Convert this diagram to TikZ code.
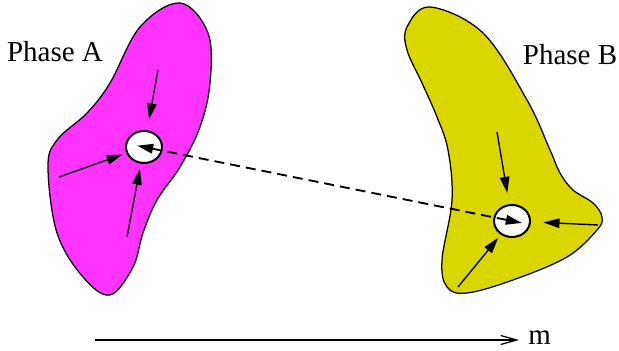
\documentclass[tikz,border=0pt]{standalone}
\usepackage{fontspec}
\setmainfont{Liberation Serif}
\usepackage{tikz}
\usetikzlibrary{
    arrows.meta,
    positioning,
    calc,
    shapes.geometric
}
\tikzset{
    phaseA/.style={
        draw,
        line width=0.5pt,
        fill=phasemag
    },
    phaseB/.style={
        draw,
        line width=0.5pt,
        fill=phaseyel
    },
    hole/.style={
        draw,
        ellipse,
        line width=0.8pt,
        fill=white,
        minimum width=14.4pt,
        minimum height=12.8pt,
        inner sep=0pt
    },
    lab/.style={
        font=\fontsize{11.6}{14}\selectfont,
        inner sep=0pt
    },
    arr/.style={
        -{Triangle[length=6.4pt,width=3.8pt]},
        line width=0.55pt
    }
}
\definecolor{phasemag}{RGB}{255,51,255}
\definecolor{phaseyel}{RGB}{217,214,0}

\begin{document}
\begin{tikzpicture}[
    x=0.4pt,
    y=-0.4pt,
    dasharr/.style={
        {Triangle[length=6.4pt,width=3.8pt]}-{Triangle[length=6.4pt,width=3.8pt]},
        line width=0.75pt,
        dash pattern=on 4pt off 2.4pt
    },
    axis/.style={
        -{Straight Barb[length=6.4pt,width=3.6pt]},
        line width=0.5pt
    }
]
\useasboundingbox (0,0) rectangle (619,351);

% phase regions
\draw[phaseA] plot[smooth cycle, tension=0.6] coordinates {
    (180,3) (208,33) (210,83) (200,127) (180,167) (157,200) (143,233)
    (133,267) (110,295) (83,277) (57,233) (48,167) (57,140) (87,113)
    (110,83) (140,27)};
\draw[phaseB] plot[smooth cycle, tension=0.6] coordinates {
    (430,7) (483,33) (527,100) (550,150) (560,173) (573,190) (593,203)
    (602,217) (597,230) (567,257) (513,280) (467,293) (447,287) (442,260)
    (452,200) (448,150) (437,117) (422,83) (407,50) (407,27)};

\node[lab] (labA) at (55,52) {Phase A};
\node[lab] (labB) at (570,55) {Phase B};

% nuclei
\node[hole] (holeA) at (144,147) {};
\node[hole] (holeB) at (512,221) {};

% flux into nucleus A
\coordinate (inA1) at (158,70);
\coordinate (inA2) at (59,177);
\coordinate (inA3) at (127,237);
\draw[arr, shorten >=4.4pt] (inA1) -- (holeA);
\draw[arr, shorten >=1.6pt] (inA2) -- (holeA);
\draw[arr, shorten >=2pt] (inA3) -- (holeA);

% flux into nucleus B
\coordinate (inB1) at (497,132);
\coordinate (inB2) at (598,225);
\coordinate (inB3) at (458,287);
\draw[arr, shorten >=4.6pt] (inB1) -- (holeB);
\draw[arr, shorten >=5pt] (inB2) -- (holeB);
\draw[arr, shorten >=1.6pt] (inB3) -- (holeB);

% exchange between nuclei
\draw[dasharr, shorten <=-4pt, shorten >=-2.8pt] (holeB.center) -- (holeA.center);

% parameter axis
\coordinate (m0) at (95,340);
\coordinate (m1) at (519,340);
\draw[axis] (m0) -- (m1);
\node[lab, right=3.5pt of m1, yshift=1pt] (mlab) {m};

\end{tikzpicture}
\end{document}
